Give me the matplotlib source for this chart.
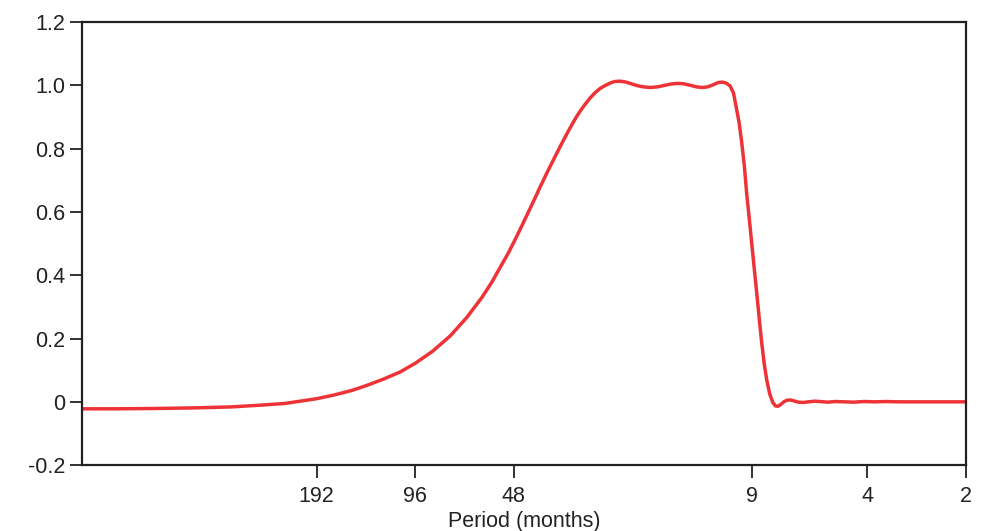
import matplotlib
matplotlib.use("Agg")
import matplotlib.pyplot as plt
from matplotlib.ticker import FixedLocator, NullLocator

plt.rcParams["font.family"] = ["Liberation Sans", "DejaVu Sans"]

# period in months, and filter gain
period = [1000, 800, 600, 450, 350, 280, 240, 216, 192, 171, 150, 135, 120,
          107, 96, 85, 75, 66.8, 60, 56, 53, 50, 48, 45.5, 43.8, 41.5, 40,
          38, 36.5, 34.7, 33.5, 32.4, 31.2, 30.2, 29.1, 28.1, 27.1, 26.2,
          25.2, 24.3, 23.6, 22.8, 22, 21.2, 20.2, 19.3, 18.4, 17.5, 16.6,
          15.9, 15.25, 14.6, 13.9, 13.3, 12.8, 12.3, 11.8, 11.4, 11.1, 10.8,
          10.5, 10.25, 10.03, 9.85, 9.68, 9.5, 9.35, 9.18, 9.02, 8.86, 8.71,
          8.56, 8.41, 8.26, 8.12, 7.95, 7.77, 7.63, 7.5, 7.35, 7.2, 7.05,
          6.89, 6.7, 6.5, 6.29, 6.05, 5.8, 5.58, 5.3, 5.0, 4.7, 4.4, 4.1,
          3.8, 3.5, 3.2, 2.9, 2.6, 2.3, 2.0]
gain = [-0.022, -0.022, -0.021, -0.019, -0.016, -0.01, -0.005, 0.002, 0.01,
        0.021, 0.036, 0.052, 0.072, 0.094, 0.122, 0.16, 0.209, 0.267, 0.331,
        0.379, 0.423, 0.469, 0.505, 0.554, 0.59, 0.641, 0.677, 0.725, 0.761,
        0.806, 0.836, 0.864, 0.894, 0.917, 0.94, 0.96, 0.977, 0.99, 1.0,
        1.008, 1.012, 1.013, 1.011, 1.006, 0.999, 0.995, 0.993, 0.995, 1.0,
        1.004, 1.006, 1.005, 1.0, 0.995, 0.993, 0.995, 1.002, 1.009, 1.01,
        1.007, 0.998, 0.975, 0.924, 0.88, 0.82, 0.745, 0.66, 0.58, 0.50,
        0.42, 0.345, 0.265, 0.187, 0.12, 0.07, 0.025, -0.003, -0.013,
        -0.014, -0.008, 0.0, 0.005, 0.006, 0.003, -0.001, -0.002, 0.0, 0.002,
        0.001, -0.001, 0.001, 0.0, -0.001, 0.001, 0.0, 0.001, 0.0, 0.0, 0.0,
        0.0, 0.0]

xticks = [192, 96, 48, 9, 4, 2]
yticks = [-0.2, 0, 0.2, 0.4, 0.6, 0.8, 1.0, 1.2]
ylabels = ["-0.2", "0", "0.2", "0.4", "0.6", "0.8", "1.0", "1.2"]

fig = plt.figure(figsize=(9.82, 5.31), dpi=100)
ax = fig.add_axes([0.0835, 0.124, 0.9002, 0.8346])

ax.plot(period, gain, color="#EE3338", linewidth=2.5,
        solid_capstyle="round", solid_joinstyle="round")

ax.set_xscale("log")
ax.set_xlim(1000, 2)
ax.set_ylim(-0.2, 1.2)

ax.xaxis.set_major_locator(FixedLocator(xticks))
ax.xaxis.set_minor_locator(NullLocator())
ax.set_xticklabels([str(t) for t in xticks])
ax.set_yticks(yticks)
ax.set_yticklabels(ylabels)

for s in ax.spines.values():
    s.set_color("#222222")
    s.set_linewidth(1.6)

ax.tick_params(axis="both", direction="out", length=9, width=1.3,
               color="#222222", labelsize=15.5, labelcolor="#222222")
ax.tick_params(axis="y", pad=3)
ax.tick_params(axis="x", pad=6)

ax.set_xlabel("Period (months)", fontsize=15.5, color="#222222", labelpad=3)

fig.savefig("out.png", dpi=100)
